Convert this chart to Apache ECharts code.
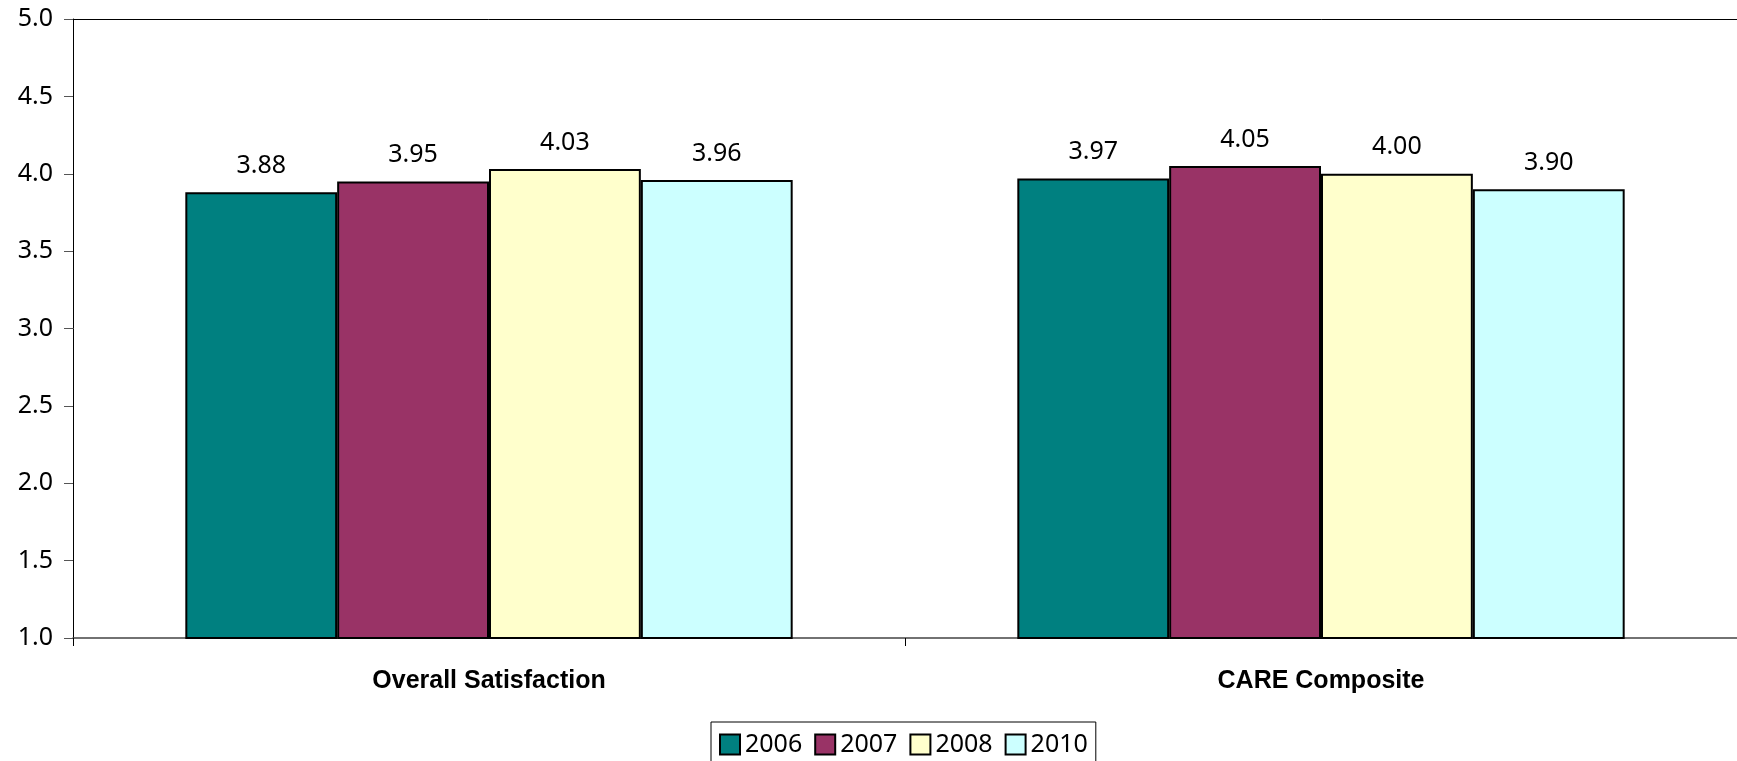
<!DOCTYPE html>
<html>
<head>
<meta charset="utf-8">
<script src="https://cdn.jsdelivr.net/npm/echarts@6/dist/echarts.min.js"></script>
<style>
  html, body { margin: 0; padding: 0; background: #fff; }
  #main { width: 1737px; height: 761px; }
</style>
</head>
<body>
<div id="main"></div>
<script>
// 数据
var categories = ['Overall Satisfaction', 'CARE Composite'];
var years = ['2006', '2007', '2008', '2010'];
var values2006 = [3.88, 3.97];
var values2007 = [3.95, 4.05];
var values2008 = [4.03, 4.00];
var values2010 = [3.96, 3.90];
var colors = ['#008080', '#993366', '#FFFFCC', '#CCFFFF'];

var allValues = [values2006, values2007, values2008, values2010];
var numFont = 'Noto Sans';

var myChart = echarts.init(document.getElementById('main'));

var series = [];
for (var i = 0; i < years.length; i++) {
    series.push({
        name: years[i],
        type: 'bar',
        data: allValues[i],
        barGap: '0%',
        barCategoryGap: '27%',
        itemStyle: {
            color: colors[i],
            borderColor: '#000',
            borderWidth: 2
        },
        label: {
            show: true,
            position: 'top',
            distance: 14,
            color: '#000',
            fontFamily: numFont,
            fontSize: 25,
            formatter: function (p) { return p.value.toFixed(2); }
        }
    });
}

var option = {
    animation: false,
    backgroundColor: '#fff',
    grid: { left: 73, top: 19, right: 0, bottom: 123 },
    legend: {
        data: years,
        left: 711,
        top: 722,
        orient: 'horizontal',
        itemWidth: 20,
        itemHeight: 20,
        itemGap: 12,
        padding: [10, 8, 10, 8],
        borderColor: '#000',
        borderWidth: 1,
        icon: 'rect',
        textStyle: { color: '#000', fontFamily: numFont, fontSize: 25 }
    },
    xAxis: [{
        type: 'category',
        data: categories,
        axisLine: { lineStyle: { color: '#444', width: 1.5 } },
        axisTick: { show: true, length: 8, lineStyle: { color: '#000' } },
        axisLabel: {
            color: '#000',
            fontFamily: 'Liberation Sans',
            fontWeight: 'bold',
            fontSize: 25,
            margin: 31
        }
    }, {
        // 顶部边框线
        type: 'category',
        position: 'top',
        data: categories,
        axisLine: { show: true, lineStyle: { color: '#000', width: 1 } },
        axisTick: { show: false },
        axisLabel: { show: false }
    }],
    yAxis: {
        type: 'value',
        min: 1,
        max: 5,
        interval: 0.5,
        axisLine: { show: true, lineStyle: { color: '#000', width: 1 } },
        axisTick: { show: true, inside: false, length: 9, lineStyle: { color: '#555' } },
        splitLine: { show: false },
        axisLabel: {
            color: '#000',
            fontFamily: numFont,
            fontSize: 25,
            margin: 20,
            formatter: function (v) { return v.toFixed(1); }
        }
    },
    series: series
};
myChart.setOption(option);
</script>
</body>
</html>
